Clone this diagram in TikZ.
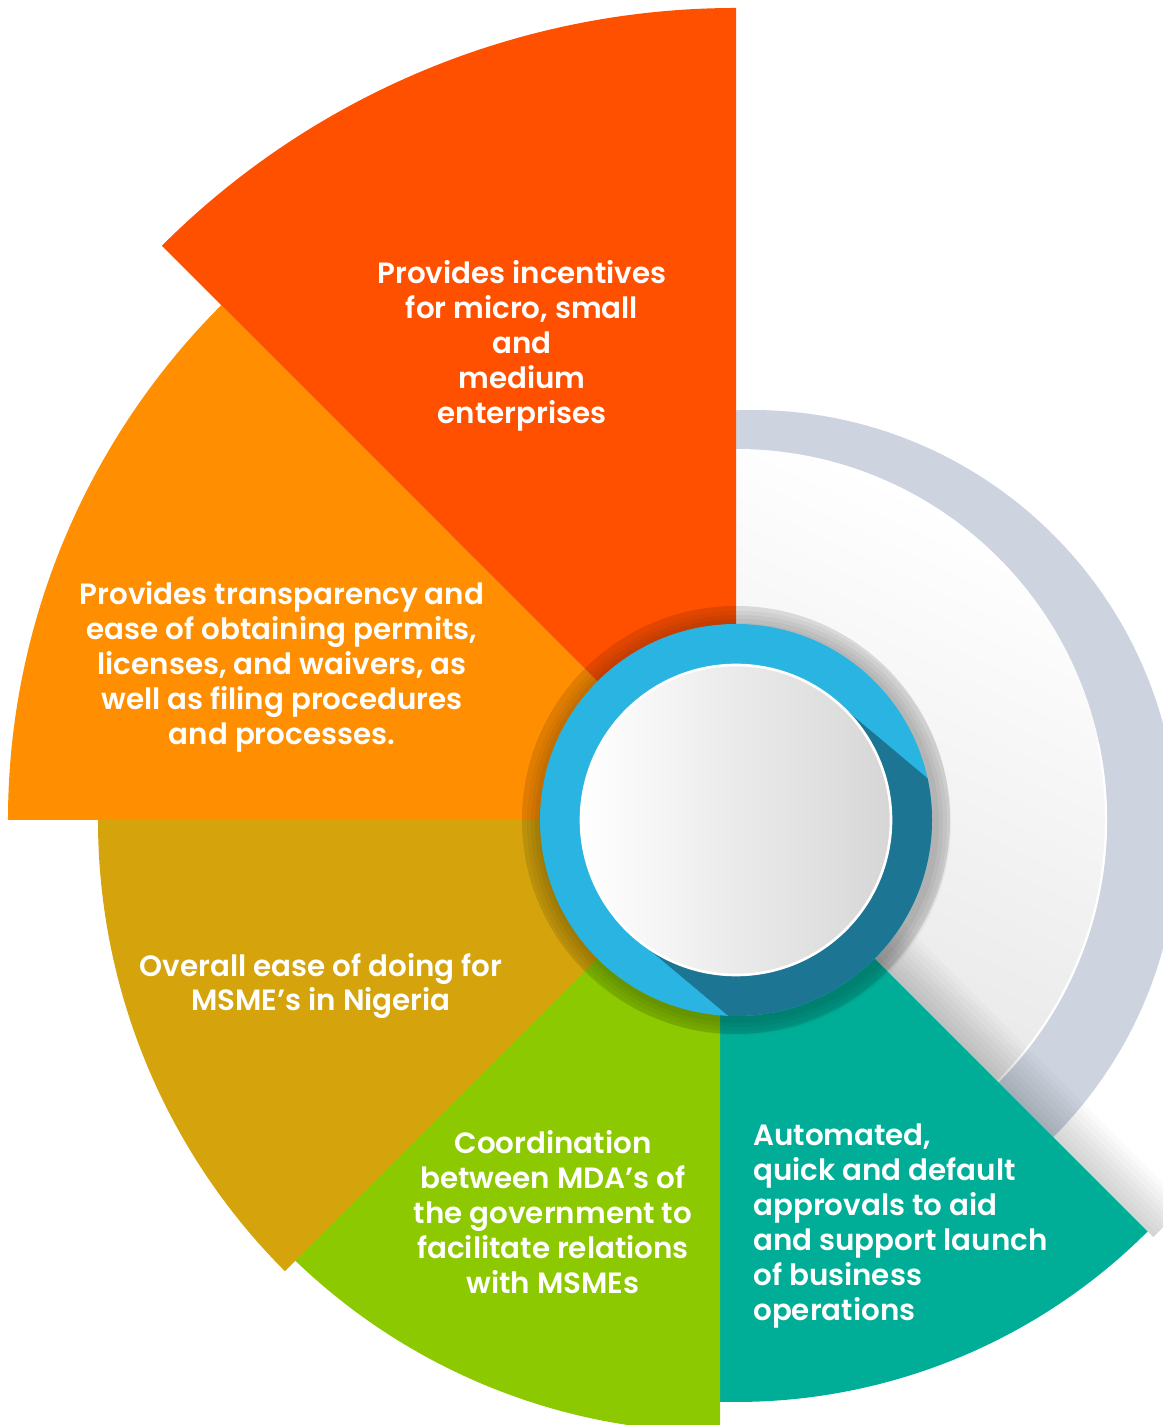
\documentclass[tikz,border=0pt]{standalone}
\usepackage{fontspec}
\usepackage{tikz}
\newfontfamily\labelfont{Poppins SemiBold}

\definecolor{segred}{HTML}{FF5000}
\definecolor{segorange}{HTML}{FF8F00}
\definecolor{seggold}{HTML}{D5A40C}
\definecolor{seggreen}{HTML}{8CC900}
\definecolor{segteal}{HTML}{00AE98}
\definecolor{ringblue}{HTML}{2AB4E2}
\definecolor{ringshadow}{HTML}{1C7593}
\definecolor{ringgrey}{HTML}{CDD4E0}

\tikzset{
  seglabel/.style={text=white, inner sep=0pt,
    font=\labelfont\fontsize{16.7}{19.9}\selectfont}
}

\begin{document}
\begin{tikzpicture}[x=0.02cm, y=0.02cm]
  \useasboundingbox (-736,-605) rectangle (426,820);

  % grey rim and the light disk behind the segments
  \fill[ringgrey] (16,-16) circle [radius=426];
  \shade[top color=white, bottom color=black!13, shading angle=-25] (0,0) circle [radius=371];
  \draw[white, line width=1.2] (-62:370) arc[start angle=-62, end angle=12, radius=370];
  % shadow thrown by the teal segment
  \begin{scope}[rotate=-45]
    \foreach \w in {5,10,...,45}
      \fill[black, opacity=0.018] (0,0) rectangle (590,\w);
  \end{scope}

  % segments
  \fill[segteal] (0,0) -- (-16,0) -- (268.43:582) arc[start angle=268.43, end angle=315, radius=582] -- cycle;
  \fill[seggreen] (-16,0) -- ++(225:612) arc[start angle=225, end angle=270, radius=612] -- cycle;
  \fill[seggold] (0,0) -- (180:638) arc[start angle=180, end angle=225, radius=638] -- cycle;
  \fill[segorange] (0,0) -- (135:728) arc[start angle=135, end angle=180, radius=728] -- cycle;
  \fill[segred] (0,0) -- (90:812) arc[start angle=90, end angle=135, radius=812] -- cycle;

  % hub
  \fill[black, opacity=0.12] (0,0) circle [radius=214];
  \foreach \r in {212,208,...,198}
    \fill[black, opacity=0.04] (3,-3) circle [radius=\r];
  \fill[ringblue] (0,0) circle [radius=196];
  \begin{scope}
    \clip (0,0) circle [radius=196];
    \fill[ringshadow] (50:155) -- ++(-40:400) -- ++(230:310) -- (230:155) -- cycle;
  \end{scope}
  \shade[left color=white, right color=black!16] (0,0) circle [radius=155];
  \draw[white, line width=1.5] (0,0) circle [radius=155];

  % labels
  \node[seglabel, align=center] (incentives) at (-214,474)
    {Provides incentives\\for micro, small\\and\\medium\\enterprises};
  \node[seglabel, align=center] (transparency) at (-454,153)
    {Provides transparency and\\ease of obtaining permits,\\licenses, and waivers, as\\well as filing procedures\\and processes.};
  \node[seglabel, align=center] (ease) at (-415,-166)
    {Overall ease of doing for\\MSME’s in Nigeria};
  \node[seglabel, align=center] (coordination) at (-183,-392)
    {Coordination\\between MDA’s of\\the government to\\facilitate relations\\with MSMEs};
  \node[seglabel, align=left, anchor=west] (approvals) at (17,-406)
    {Automated,\\quick and default\\approvals to aid\\and support launch\\of business\\operations};
\end{tikzpicture}
\end{document}
